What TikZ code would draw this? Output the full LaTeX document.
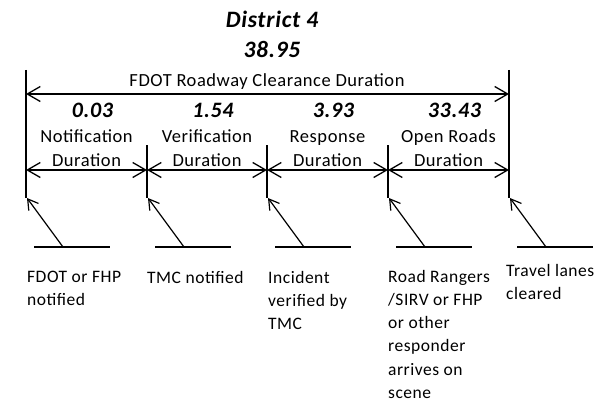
\documentclass[tikz,border=0pt]{standalone}
\usepackage{fontspec}
\setmainfont{Carlito}[LetterSpace=3]
\usetikzlibrary{arrows.meta,positioning,calc}
\tikzset{
    bigline/.style={line width=1.5pt},
    spanarrow/.style={{Straight Barb[length=13pt,width=15pt]}-{Straight Barb[length=13pt,width=15pt]},line width=1.3pt},
    eventarrow/.style={-{Straight Barb[length=10pt,width=12pt]},line width=1.2pt},
    groundline/.style={line width=2pt},
    titletext/.style={font=\fontsize{23.5}{24}\selectfont\bfseries\itshape,inner sep=0pt},
    valuetext/.style={font=\fontsize{22}{24}\selectfont\bfseries\itshape,inner sep=0pt},
    durtext/.style={font=\fontsize{18.5}{24}\selectfont,align=center,inner sep=0pt},
    eventtext/.style={font=\fontsize{17.5}{23.2}\selectfont,align=left,anchor=north west,inner sep=0pt}
}

\begin{document}
\begin{tikzpicture}[x=1pt,y=-1pt]
    \useasboundingbox (0,0) rectangle (613,404);
    % Time marks
    \coordinate (t0) at (26,70);
    \coordinate (t1) at (147,145);
    \coordinate (t2) at (267,145);
    \coordinate (t3) at (388,145);
    \coordinate (t4) at (509,70);
    \foreach \n in {0,...,4}{
        \coordinate (b\n) at (t\n |- 0,198);
        \draw[bigline] (t\n) -- (b\n);
    }
    % Title
    \node[titletext,anchor=base] (district) at (272,28) {District 4};
    \node[titletext,anchor=base] (total) at (272,58) {38.95};
    \node[durtext,anchor=base] (clear) at (267,86) {FDOT Roadway Clearance Duration};
    \coordinate (ca) at (t0 |- 0,94);
    \coordinate (cb) at (t4 |- 0,94);
    \draw[spanarrow] (ca) -- (cb);
    % Durations
    \foreach \a/\b/\val/\name [count=\i] in {0/1/0.03/Notification,1/2/1.54/Verification,2/3/3.93/Response,3/4/33.43/Open Roads}{
        \coordinate (sa\i) at (t\a |- 0,170);
        \coordinate (sb\i) at (t\b |- 0,170);
        \draw[spanarrow] (sa\i) -- (sb\i);
        \node[valuetext,anchor=base] (val\i) at ($(sa\i)!0.5!(sb\i)+(6,-53)$) {\val};
        \node[durtext,anchor=base] (dur\i) at ($(sa\i)!0.5!(sb\i)+(0,-28)$) {\name};
        \node[durtext,anchor=base] (durb\i) at ($(sa\i)!0.5!(sb\i)+(0,-4)$) {Duration};
    }
    % Events
    \foreach \n in {0,...,4}{
        \coordinate (e\n) at ($(b\n)+(37,49)$);
        \draw[groundline] ($(b\n)+(8,49)$) -- ($(b\n)+(84,49)$);
        \draw[eventarrow] (e\n) -- ($(b\n)+(1,0)$);
    }
    \node[eventtext] (ev0) at (27,271) {FDOT or FHP\\notified};
    \node[eventtext] (ev1) at (147,271) {TMC notified};
    \node[eventtext] (ev2) at (268,271) {Incident\\verified by\\TMC};
    \node[eventtext] (ev3) at (388,270) {Road Rangers\\/SIRV or FHP\\or other\\responder\\arrives on\\scene};
    \node[eventtext] (ev4) at (506,264) {Travel lanes\\cleared};
\end{tikzpicture}
\end{document}
